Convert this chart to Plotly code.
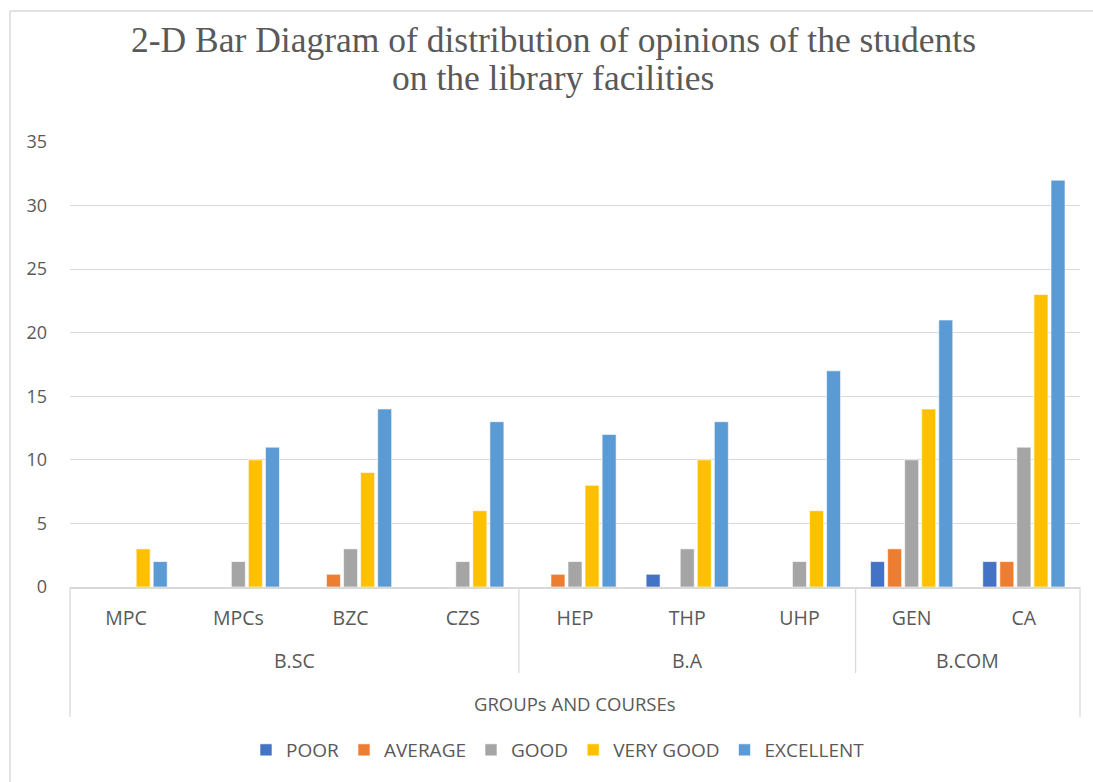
import plotly.graph_objects as go

# Survey data: opinions on library facilities by group and course
groups = ["B.SC", "B.SC", "B.SC", "B.SC", "B.A", "B.A", "B.A", "B.COM", "B.COM"]
courses = ["MPC", "MPCs", "BZC", "CZS", "HEP", "THP", "UHP", "GEN", "CA"]

poor = [0, 0, 0, 0, 0, 1, 0, 2, 2]
average = [0, 0, 1, 0, 1, 0, 0, 3, 2]
good = [0, 2, 3, 2, 2, 3, 2, 10, 11]
very_good = [3, 10, 9, 6, 8, 10, 6, 14, 23]
excellent = [2, 11, 14, 13, 12, 13, 17, 21, 32]

series = [
    ("POOR", poor, "#4472C4"),
    ("AVERAGE", average, "#ED7D31"),
    ("GOOD", good, "#A5A5A5"),
    ("VERY GOOD", very_good, "#FFC000"),
    ("EXCELLENT", excellent, "#5B9BD5"),
]

W, H = 1093, 782
ML, MR, MT, MB = 70, 13, 142, 195
plot_h = H - MT - MB
plot_w = W - ML - MR

TEXT = "#595959"
GRID = "#D9D9D9"
FONT = "Open Sans"
FS = 19.5


def px_to_paper_y(py):
    return (H - MB - py) / plot_h


def px_to_paper_x(px):
    return (px - ML) / plot_w


fig = go.Figure()
for name, vals, color in series:
    fig.add_trace(go.Bar(
        x=courses, y=vals, name=name,
        marker=dict(color=color, line=dict(color="white", width=0.6)),
    ))

shapes = []
# chart frame (top and left edges)
shapes.append(dict(type="line", xref="paper", yref="paper",
                   x0=px_to_paper_x(10), x1=px_to_paper_x(W + 5),
                   y0=px_to_paper_y(11), y1=px_to_paper_y(11),
                   line=dict(color=GRID, width=1.5)))
shapes.append(dict(type="line", xref="paper", yref="paper",
                   x0=px_to_paper_x(10), x1=px_to_paper_x(10),
                   y0=px_to_paper_y(11), y1=px_to_paper_y(H + 5),
                   line=dict(color=GRID, width=1.5)))
# outer edges of the category axis box
for xe in (0, 1):
    shapes.append(dict(type="line", xref="paper", yref="paper",
                       x0=xe, x1=xe, y0=0, y1=px_to_paper_y(717),
                       line=dict(color=GRID, width=1.3)))
# dividers between groups, and group labels centred under their courses
n = len(courses)
annotations = []
start = 0
for i in range(1, n + 1):
    if i == n or groups[i] != groups[i - 1]:
        annotations.append(dict(
            text=groups[start], xref="x", yref="paper",
            x=(start + i - 1) / 2, y=px_to_paper_y(660), showarrow=False,
            font=dict(family=FONT, size=FS, color=TEXT),
            xanchor="center", yanchor="middle"))
        if i < n:
            xd = i / n
            shapes.append(dict(type="line", xref="paper", yref="paper",
                               x0=xd, x1=xd, y0=0, y1=px_to_paper_y(673),
                               line=dict(color=GRID, width=1.3)))
        start = i

annotations.append(dict(
    text="GROUPs AND COURSEs", xref="paper", yref="paper",
    x=0.5, y=px_to_paper_y(703), showarrow=False,
    font=dict(family=FONT, size=18.5, color=TEXT),
    xanchor="center", yanchor="middle"))

# two-line chart title
title_lines = ["2-D Bar Diagram of distribution of opinions of the students",
               "on the library facilities"]
for line, ty in zip(title_lines, (40, 78)):
    annotations.append(dict(
        text=line, xref="paper", yref="paper",
        x=px_to_paper_x(553), y=px_to_paper_y(ty), showarrow=False,
        font=dict(family="Liberation Serif", size=35.5, color=TEXT),
        xanchor="center", yanchor="middle"))

fig.update_layout(
    width=W, height=H,
    margin=dict(l=ML, r=MR, t=MT, b=MB, autoexpand=False),
    paper_bgcolor="white", plot_bgcolor="white",
    barmode="group", bargap=0.24, bargroupgap=0.18,
    xaxis=dict(
        type="category",
        tickfont=dict(family=FONT, size=FS, color=TEXT),
        showline=True, linecolor=GRID, linewidth=1.5,
        showgrid=False, ticks="", ticklabelstandoff=13,
    ),
    yaxis=dict(
        range=[0, 35], dtick=5, tick0=0,
        tickfont=dict(family=FONT, size=18, color=TEXT),
        showgrid=True, gridcolor=GRID, gridwidth=1.3,
        zeroline=False, showline=False, ticks="", ticklabelstandoff=22,
    ),
    legend=dict(
        orientation="h", xref="container", x=558 / W, xanchor="center",
        yref="paper", y=px_to_paper_y(750), yanchor="middle",
        font=dict(family=FONT, size=19, color=TEXT),
        itemwidth=30, traceorder="normal",
    ),
    shapes=shapes,
    annotations=annotations,
)

fig.write_html("out.html")
